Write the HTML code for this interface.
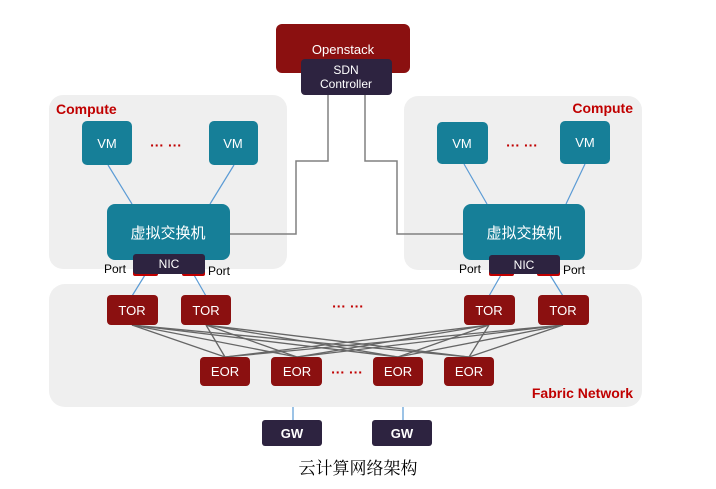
<!DOCTYPE html>
<html><head><meta charset="utf-8"><style>
html,body{margin:0;padding:0;background:#fff;width:716px;height:489px;overflow:hidden}
svg text{font-family:"Liberation Sans","Noto Sans CJK SC",sans-serif}
</style></head><body>
<svg width="716" height="489" viewBox="0 0 716 489" xmlns="http://www.w3.org/2000/svg">
<!-- panels -->
<rect x="49" y="95" width="238" height="174" rx="14" fill="#efefef"/>
<rect x="404" y="96" width="238" height="174" rx="14" fill="#efefef"/>
<rect x="49" y="284" width="593" height="123" rx="16" fill="#efefef"/>
<text x="56" y="114" font-size="14" font-weight="bold" fill="#c00000">Compute</text>
<text x="633" y="113" font-size="14" font-weight="bold" fill="#c00000" text-anchor="end">Compute</text>
<text x="633" y="398" font-size="14" font-weight="bold" fill="#c00000" text-anchor="end">Fabric Network</text>
<!-- SDN wires -->
<g fill="none" stroke="#808080" stroke-width="1.5">
<polyline points="328,94 328,161 296,161 296,234 230,234"/>
<polyline points="365,94 365,161 397,161 397,234 464,234"/>
</g>
<!-- openstack -->
<rect x="276" y="24" width="134" height="49" rx="6" fill="#8b1010"/>
<text x="343" y="54" font-size="13" fill="#fff" text-anchor="middle">Openstack</text>
<rect x="301" y="59" width="91" height="36" rx="4" fill="#2d2340"/>
<text x="346" y="74" font-size="12" fill="#fff" text-anchor="middle">SDN</text>
<text x="346" y="88" font-size="12" fill="#fff" text-anchor="middle">Controller</text>
<!-- blue lines -->
<g stroke="#5b9bd5" stroke-width="1.2">
<line x1="108" y1="165" x2="132" y2="204"/><line x1="234" y1="165" x2="210" y2="204"/>
<line x1="464" y1="164" x2="487" y2="204"/><line x1="585" y1="164" x2="566" y2="204"/>
<line x1="145" y1="275" x2="132" y2="296"/><line x1="194" y1="275" x2="206" y2="296"/>
<line x1="501" y1="275" x2="489" y2="296"/><line x1="550" y1="275" x2="563" y2="296"/>
<line x1="293" y1="407" x2="293" y2="420"/><line x1="403" y1="407" x2="403" y2="420"/>
</g>
<!-- VMs -->
<g fill="#167f98">
<rect x="82" y="121" width="50" height="44" rx="5"/><rect x="209" y="121" width="49" height="44" rx="5"/>
<rect x="437" y="122" width="51" height="42" rx="5"/><rect x="560" y="121" width="50" height="43" rx="5"/>
<rect x="107" y="204" width="123" height="56" rx="8"/><rect x="463" y="204" width="122" height="56" rx="8"/>
</g>
<g fill="#fff" font-size="13" text-anchor="middle">
<text x="107" y="148">VM</text><text x="233" y="148">VM</text>
<text x="462" y="148">VM</text><text x="585" y="147">VM</text>
<text x="168" y="238" font-size="15">虚拟交换机</text><text x="524" y="238" font-size="15">虚拟交换机</text>
</g>
<g fill="#c00000" font-size="14" font-weight="bold" text-anchor="middle">
<text x="166" y="150">··· ···</text><text x="522" y="150">··· ···</text>
<text x="348" y="311">··· ···</text><text x="347" y="377">··· ···</text>
</g>
<!-- NICs -->
<g fill="#c00000">
<rect x="133" y="268" width="25" height="8" rx="2"/><rect x="182" y="268" width="23" height="8" rx="2"/>
<rect x="489" y="268" width="25" height="8" rx="2"/><rect x="537" y="268" width="23" height="8" rx="2"/>
</g>
<rect x="133" y="254" width="72" height="20" rx="3" fill="#2d2340"/>
<rect x="489" y="255" width="71" height="19" rx="3" fill="#2d2340"/>
<g font-size="12" fill="#fff" text-anchor="middle"><text x="169" y="268">NIC</text><text x="524" y="269">NIC</text></g>
<g font-size="12" fill="#000">
<text x="104" y="273">Port</text><text x="208" y="275">Port</text>
<text x="459" y="273">Port</text><text x="563" y="274">Port</text>
</g>
<!-- mesh -->
<g stroke="#666" stroke-width="1.3">
<line x1="132" y1="325" x2="225" y2="357"/><line x1="132" y1="325" x2="297" y2="357"/><line x1="132" y1="325" x2="398" y2="357"/><line x1="132" y1="325" x2="469" y2="357"/>
<line x1="206" y1="325" x2="225" y2="357"/><line x1="206" y1="325" x2="297" y2="357"/><line x1="206" y1="325" x2="398" y2="357"/><line x1="206" y1="325" x2="469" y2="357"/>
<line x1="489" y1="325" x2="225" y2="357"/><line x1="489" y1="325" x2="297" y2="357"/><line x1="489" y1="325" x2="398" y2="357"/><line x1="489" y1="325" x2="469" y2="357"/>
<line x1="563" y1="325" x2="225" y2="357"/><line x1="563" y1="325" x2="297" y2="357"/><line x1="563" y1="325" x2="398" y2="357"/><line x1="563" y1="325" x2="469" y2="357"/>
</g>
<g fill="#8b1010">
<rect x="107" y="295" width="51" height="30" rx="4"/><rect x="181" y="295" width="50" height="30" rx="4"/>
<rect x="464" y="295" width="51" height="30" rx="4"/><rect x="538" y="295" width="51" height="30" rx="4"/>
<rect x="200" y="357" width="50" height="29" rx="4"/><rect x="271" y="357" width="51" height="29" rx="4"/>
<rect x="373" y="357" width="50" height="29" rx="4"/><rect x="444" y="357" width="50" height="29" rx="4"/>
</g>
<g fill="#fff" font-size="13" text-anchor="middle">
<text x="132" y="315">TOR</text><text x="206" y="315">TOR</text><text x="489" y="315">TOR</text><text x="563" y="315">TOR</text>
<text x="225" y="376">EOR</text><text x="297" y="376">EOR</text><text x="398" y="376">EOR</text><text x="469" y="376">EOR</text>
</g>
<rect x="262" y="420" width="60" height="26" rx="3" fill="#2d2340"/>
<rect x="372" y="420" width="60" height="26" rx="3" fill="#2d2340"/>
<g fill="#fff" font-size="13" font-weight="bold" text-anchor="middle"><text x="292" y="438">GW</text><text x="402" y="438">GW</text></g>
<text x="358" y="474" font-size="17" fill="#000" text-anchor="middle" style="font-family:'Noto Serif CJK SC',serif">云计算网络架构</text>
</svg>
</body></html>
